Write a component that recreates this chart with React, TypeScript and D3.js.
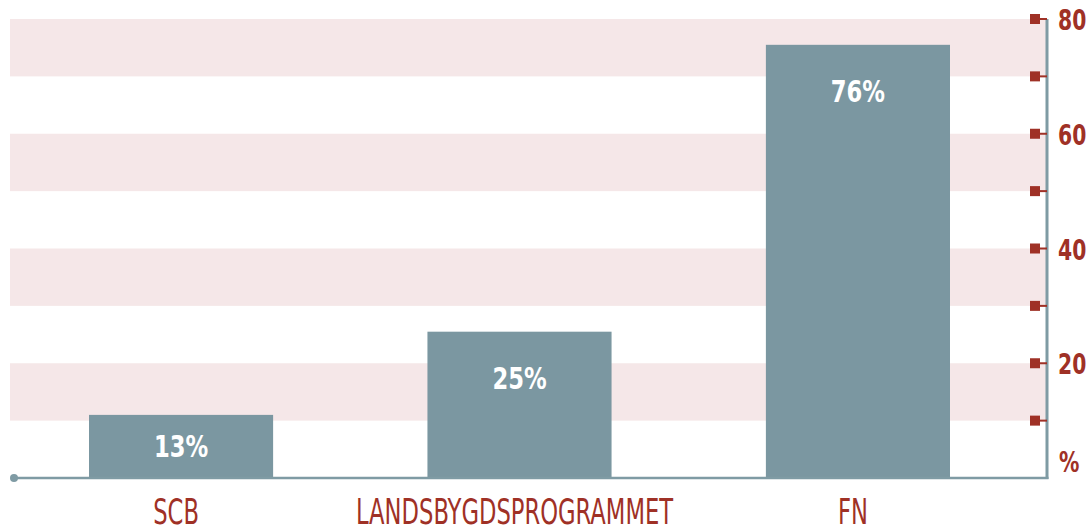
import React, { useEffect } from 'react';
import * as d3 from 'd3';

// chart data
const categories = ['SCB', 'LANDSBYGDSPROGRAMMET', 'FN'];
const barValues = [11, 25.5, 75.5];
const barLabels = ['13%', '25%', '76%'];
const axisLabels = [20, 40, 60, 80];
const unitLabel = '%';

const W = 1089;
const H = 531;
const RED = '#9f3126';
const BAR = '#7b97a1';
const AXIS = '#7f9ba4';
const BAND = '#f5e7e8';
const FONT = '"DejaVu Sans Condensed", "Liberation Sans Narrow", "Roboto", sans-serif';

export default function App() {
  useEffect(() => {
    document.body.style.margin = '0';
  }, []);

  const y = d3.scaleLinear().domain([0, 80]).range([478, 19]);
  const x = d3.scaleBand()
    .domain(categories)
    .range([89, 950])
    .paddingInner(0.456)
    .paddingOuter(0);

  const axisX = 1047;
  const bands = d3.range(10, 80, 20);
  const ticks = y.ticks(8).filter(t => t > 0);

  return (
    <svg width={W} height={H} style={{ display: 'block', fontFamily: FONT }}>
      {/* alternating background bands */}
      {bands.map(b => (
        <rect
          key={b}
          x={10}
          width={axisX - 10}
          y={y(b + 10)}
          height={y(b) - y(b + 10)}
          fill={BAND}
        />
      ))}

      {/* bars */}
      {categories.map((c, i) => {
        const top = y(barValues[i]);
        const bottom = y(0);
        const labelY = Math.min(top + 46, (top + bottom) / 2);
        return (
          <g key={c}>
            <rect x={x(c)} width={x.bandwidth()} y={top} height={bottom - top} fill={BAR} />
            <text
              transform={`translate(${x(c) + x.bandwidth() / 2}, ${labelY + 11}) scale(0.84, 1)`}
              textAnchor="middle"
              fill="#fff"
              fontWeight="bold"
              fontSize={30}
            >
              {barLabels[i]}
            </text>
          </g>
        );
      })}

      {/* bottom axis */}
      <line x1={14} x2={axisX + 1.5} y1={y(0)} y2={y(0)} stroke={AXIS} strokeWidth={2.5} />
      <circle cx={14} cy={y(0)} r={4} fill={AXIS} />
      {categories.map(c => (
        <text
          key={c}
          transform={`translate(${x(c) + x.bandwidth() / 2 - 5}, 524) scale(0.7, 1)`}
          textAnchor="middle"
          fill={RED}
          fontSize={36}
        >
          {c}
        </text>
      ))}

      {/* right axis */}
      <line x1={axisX} x2={axisX} y1={y(80)} y2={y(0) + 1} stroke={AXIS} strokeWidth={3} />
      {ticks.map(t => (
        <g key={t}>
          <line x1={1038} x2={axisX} y1={y(t)} y2={y(t)} stroke={RED} strokeWidth={2} />
          <rect x={1030} y={y(t) - 5} width={10} height={10} fill={RED} />
        </g>
      ))}
      {axisLabels.map(v => (
        <text
          key={v}
          transform={`translate(1058, ${y(v) + 11}) scale(0.78, 1)`}
          fill={RED}
          fontWeight="bold"
          fontSize={29}
        >
          {v}
        </text>
      ))}
      <text
        transform={`translate(1059, ${y(0) - 6}) scale(0.78, 1)`}
        fill={RED}
        fontWeight="bold"
        fontSize={29}
      >
        {unitLabel}
      </text>
    </svg>
  );
}
